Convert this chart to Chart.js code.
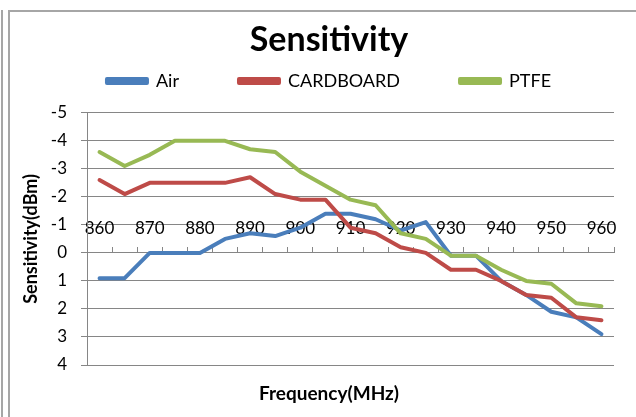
<!DOCTYPE html>
<html>
<head>
<meta charset="utf-8">
<script src="https://cdn.jsdelivr.net/npm/chart.js@4.4.1/dist/chart.umd.min.js"></script>
<style>
  html, body { margin: 0; padding: 0; background: #fff; }
  #wrap { width: 636px; height: 417px; }
</style>
</head>
<body>
<div id="wrap"><canvas id="c" width="636" height="417"></canvas></div>
<script>
// ---- data ----
const frequencies = ['860','865','870','875','880','885','890','895','900','905','910','915','920','925','930','935','940','945','950','955','960'];
const xTickLabels = ['860','','870','','880','','890','','900','','910','','920','','930','','940','','950','','960'];
const airValues = [0.9,0.9,0,0,0,-0.5,-0.7,-0.6,-0.9,-1.4,-1.4,-1.2,-0.8,-1.1,0.1,0.1,1.0,1.5,2.1,2.3,2.9];
const cardboardValues = [-2.6,-2.1,-2.5,-2.5,-2.5,-2.5,-2.7,-2.1,-1.9,-1.9,-0.9,-0.7,-0.2,0,0.6,0.6,1.0,1.5,1.6,2.3,2.4];
const ptfeValues = [-3.6,-3.1,-3.5,-4,-4,-4,-3.7,-3.6,-2.9,-2.4,-1.9,-1.7,-0.7,-0.5,0.1,0.1,0.6,1.0,1.1,1.8,1.9];
const seriesNames = ['Air','CARDBOARD','PTFE'];
const yMin = -5, yMax = 4;

const FONT = 'Lato, "Open Sans", sans-serif';
const GRID = '#868686';

const framePlugin = {
  id: 'frame',
  beforeDraw(chart) {
    const ctx = chart.ctx;
    ctx.save();
    ctx.fillStyle = '#ffffff';
    ctx.fillRect(0, 0, chart.width, chart.height);
    ctx.fillStyle = '#a6a6a6';
    ctx.fillRect(1, 10, 2, chart.height - 10);
    ctx.fillRect(8, 10, 2, chart.height - 10);
    ctx.fillRect(8, 10, chart.width - 8, 2);
    ctx.restore();
  }
};

const mk = (label, data, color, order) => ({
  label, data, order,
  borderColor: color, backgroundColor: color,
  borderWidth: 4, pointRadius: 0, pointHoverRadius: 0,
  tension: 0, fill: false,
  borderCapStyle: 'round', borderJoinStyle: 'round'
});

new Chart(document.getElementById('c'), {
  type: 'line',
  data: {
    labels: frequencies,
    datasets: [
      mk(seriesNames[0], airValues, '#4A7EBB', 2),
      mk(seriesNames[1], cardboardValues, '#BE4B48', 1),
      mk(seriesNames[2], ptfeValues, '#98B954', 0)
    ]
  },
  plugins: [framePlugin],
  options: {
    responsive: false,
    animation: false,
    devicePixelRatio: 1,
    layout: { padding: { left: 44, right: 22, top: 12, bottom: 0 } },
    plugins: {
      tooltip: { enabled: false },
      legend: {
        position: 'top',
        weight: 3000,
        labels: {
          boxWidth: 40, boxHeight: 4, padding: 60,
          color: '#000',
          font: { family: FONT, size: 18 },
          sort: (a, b) => a.datasetIndex - b.datasetIndex
        }
      },
      title: {
        display: true,
        text: 'Sensitivity',
        position: 'top',
        weight: 1000,
        color: '#000',
        font: { family: FONT, size: 34, weight: 'bold' },
        padding: { top: -80, bottom: 52 }
      },
      subtitle: {
        display: true,
        text: 'Frequency(MHz)',
        position: 'bottom',
        color: '#000',
        font: { family: FONT, size: 19, weight: 'bold' },
        padding: { top: 17.6, bottom: 11.6 }
      }
    },
    scales: {
      x: {
        type: 'category',
        position: { y: 0 },
        offset: true,
        grid: { offset: true, drawOnChartArea: false, drawTicks: true, tickLength: -6, color: GRID, lineWidth: 1 },
        border: { display: true, color: GRID, width: 1 },
        ticks: {
          autoSkip: false, maxRotation: 0, minRotation: 0,
          padding: -29,
          color: '#000',
          font: { family: FONT, size: 17 },
          callback: (v, i) => xTickLabels[i]
        }
      },
      y: {
        reverse: true,
        min: yMin, max: yMax,
        afterFit: (s) => { s.width = 43; },
        grid: { color: GRID, lineWidth: 1, drawTicks: true, tickLength: 6 },
        border: { display: true, color: GRID, width: 1 },
        ticks: {
          stepSize: 1, autoSkip: false, padding: 14, color: '#000',
          font: { family: FONT, size: 17 }
        },
        title: {
          display: true, text: 'Sensitivity(dBm)', color: '#000',
          font: { family: FONT, size: 18, weight: 'bold' },
          padding: { top: -24, bottom: 0 }
        }
      }
    }
  }
});
</script>
</body>
</html>
